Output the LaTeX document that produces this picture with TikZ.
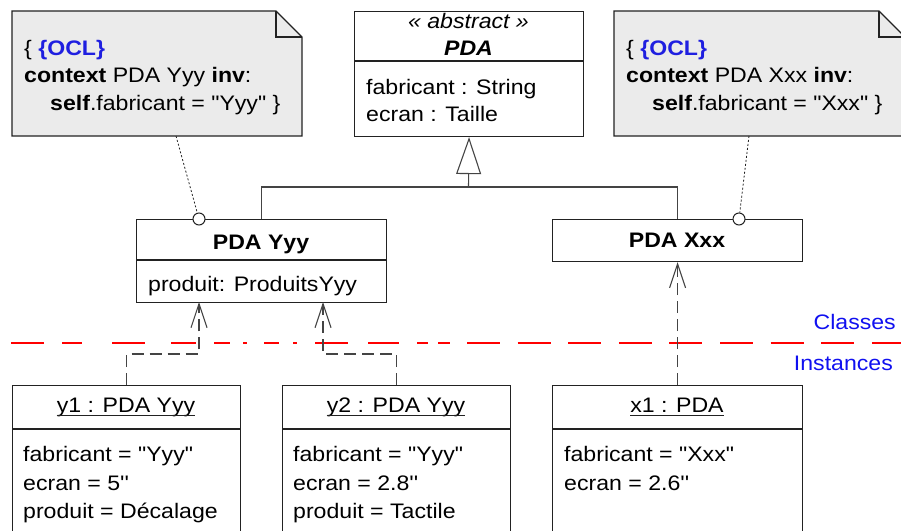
\documentclass[tikz,border=0pt]{standalone}
\usepackage{fontspec}
\newfontfamily\af{Liberation Sans}[FakeStretch=1.1]
\usetikzlibrary{arrows.meta,calc}
\definecolor{ln}{HTML}{222222}
\definecolor{dep}{HTML}{444444}
\definecolor{notefill}{HTML}{EBEBEB}
\definecolor{oclblue}{HTML}{1F1FE0}
\definecolor{lblblue}{HTML}{1010F0}
\begin{document}
\begin{tikzpicture}[x=1pt,y=-1pt,
  txt/.style={font=\af\fontsize{21}{28}\selectfont, inner sep=0pt, anchor=base west},
  ctxt/.style={txt, anchor=base},
  rtxt/.style={txt, anchor=base east, text=lblblue},
  box/.style={draw=ln, line width=1.1pt, fill=white, inner sep=0pt, anchor=north west},
  notebox/.style={draw=ln, line width=1.1pt, fill=notefill},
  sep/.style={draw=ln, line width=1.1pt},
  genline/.style={draw=dep, line width=1.1pt},
  depline/.style={draw=dep, line width=1.1pt, dash pattern=on 12pt off 6pt},
  noteline/.style={draw=ln, line width=0.8pt, dash pattern=on 2pt off 2pt},
  pin/.style={circle, draw=ln, line width=1pt, fill=white, minimum size=12pt, inner sep=0pt},
  redline/.style={draw=red, line width=2.4pt},
  uline/.style={draw=ln, line width=1pt},
]
\useasboundingbox (0,0) rectangle (901,530);
\clip (0,0) rectangle (901,530);

% red separator
\draw[redline] (11,343)--(44,343) (62,343)--(82,343) (112,343)--(145,343)
  (171,343)--(196,343) (214,343)--(230,343) (243,343)--(247,343)
  (264,343)--(279,343) (293,343)--(297,343) (315,343)--(348,343)
  (368,343)--(399,343) (417,343)--(428,343) (438,343)--(450,343);
\draw[redline, dash pattern=on 33pt off 17.6pt] (467,343) -- (905,343);
\node[rtxt] (lblc) at (896,329) {Classes};
\node[rtxt] (lbli) at (893,370) {Instances};

% notes
\draw[notebox] (12,11) -- (276,11) -- (302,37) -- (302,136) -- (12,136) -- cycle;
\draw[sep] (276,11) -- (276,37) -- (302,37);
\node[txt] (nl1) at (24,55) {\{ \textcolor{oclblue}{\bfseries\{OCL\}}};
\node[txt] (nl2) at (24,82) {{\bfseries context} PDA Yyy {\bfseries inv}:};
\node[txt] (nl3) at (50,110) {{\bfseries self}.fabricant = "Yyy" \}};
\coordinate (noteL) at (176,136);

\draw[notebox] (614,11) -- (879,11) -- (905,37) -- (905,136) -- (614,136) -- cycle;
\draw[sep] (879,11) -- (879,37) -- (905,37);
\node[txt] (nr1) at (626,55) {\{ \textcolor{oclblue}{\bfseries\{OCL\}}};
\node[txt] (nr2) at (626,82) {{\bfseries context} PDA Xxx {\bfseries inv}:};
\node[txt] (nr3) at (652,110) {{\bfseries self}.fabricant = "Xxx" \}};
\coordinate (noteR) at (749,136);

% abstract class PDA
\node[box, minimum width=229pt, minimum height=125pt] (pda) at (354,11) {};
\draw[sep] ($(pda.north west)+(0,50)$) -- ($(pda.north east)+(0,50)$);
\node[ctxt] (pdas) at (468.5,28) {\itshape « abstract »};
\node[ctxt] (pdan) at (468.5,55) {\bfseries\itshape PDA};
\node[txt] (pdaa1) at (366,94) {fabricant : String};
\node[txt] (pdaa2) at (366,121) {ecran : Taille};

% PDA Yyy
\node[box, minimum width=250pt, minimum height=83pt] (yyy) at (136,219) {};
\draw[sep] ($(yyy.north west)+(0,41)$) -- ($(yyy.north east)+(0,41)$);
\node[ctxt] (yyyn) at (261,249) {\bfseries PDA Yyy};
\node[txt] (yyya) at (148,291) {produit: ProduitsYyy};

% PDA Xxx
\node[box, minimum width=250pt, minimum height=42pt] (xxx) at (552,219) {};
\node[ctxt] (xxxn) at (677,247) {\bfseries PDA Xxx};

% generalization
\coordinate (genj) at (468.5,187);
\draw[genline] (yyy.north) -- ++(0,-32) -| (xxx.north);
\draw[genline, -{Triangle[open, length=37pt, width=25pt, line width=1.1pt]}] (genj) -- (pda.south);

% constraint pins
\node[pin] (pinL) at (199,219) {};
\node[pin] (pinR) at (739,219) {};
\draw[noteline] (noteL) -- (pinL);
\draw[noteline] (noteR) -- (pinR);

% objects
\node[box, minimum width=228pt, minimum height=160pt] (y1) at (12,385) {};
\draw[sep] ($(y1.north west)+(0,44)$) -- ($(y1.north east)+(0,44)$);
\node[ctxt] (y1t) at (126,412) {y1 : PDA Yyy};
\draw[uline] ($(y1t.base west)+(0,3.5)$) -- ($(y1t.base east)+(0,3.5)$);
\node[txt] (y1a) at (23,461) {fabricant = "Yyy"};
\node[txt] (y1b) at (23,490) {ecran = 5''};
\node[txt] (y1c) at (23,518) {produit = Décalage};

\node[box, minimum width=228pt, minimum height=160pt] (y2) at (282,385) {};
\draw[sep] ($(y2.north west)+(0,44)$) -- ($(y2.north east)+(0,44)$);
\node[ctxt] (y2t) at (396,412) {y2 : PDA Yyy};
\draw[uline] ($(y2t.base west)+(0,3.5)$) -- ($(y2t.base east)+(0,3.5)$);
\node[txt] (y2a) at (293,461) {fabricant = "Yyy"};
\node[txt] (y2b) at (293,490) {ecran = 2.8''};
\node[txt] (y2c) at (293,518) {produit = Tactile};

\node[box, minimum width=250pt, minimum height=160pt] (x1) at (552,385) {};
\draw[sep] ($(x1.north west)+(0,44)$) -- ($(x1.north east)+(0,44)$);
\node[ctxt] (x1t) at (677,412) {x1 : PDA};
\draw[uline] ($(x1t.base west)+(0,3.5)$) -- ($(x1t.base east)+(0,3.5)$);
\node[txt] (x1a) at (564,461) {fabricant = "Xxx"};
\node[txt] (x1b) at (564,490) {ecran = 2.6''};

% instance-of dependencies
\coordinate (yyyL) at (199,302);
\coordinate (yyyR) at (323,302);
\tikzset{barb/.style={-{Straight Barb[length=24pt, width=16pt, line width=1.1pt]}}}
\draw[depline, barb] (y1.north) -- ++(0,-31) -| (yyyL);
\draw[depline, barb] (y2.north) -- ++(0,-31) -| (yyyR);
\draw[depline, barb] (x1.north) -- (xxx.south);
\end{tikzpicture}
\end{document}
